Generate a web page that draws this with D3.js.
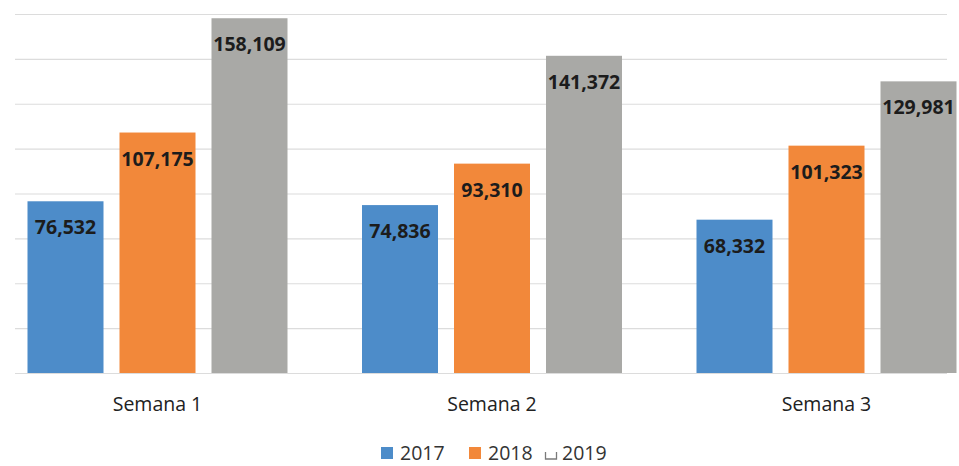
<!DOCTYPE html>
<html>
<head>
<meta charset="utf-8">
<script src="https://cdn.jsdelivr.net/npm/d3@7"></script>
<style>
  html, body { margin: 0; padding: 0; background: #ffffff; }
  svg { display: block; }
  text { font-family: "Open Sans", "Noto Sans", sans-serif; }
</style>
</head>
<body>
<svg id="chart" width="959" height="466"></svg>
<script>
// Weekly totals per year
const categories = ["Semana 1", "Semana 2", "Semana 3"];
const years = ["2017", "2018", "2019"];
const values2017 = [76532, 74836, 68332];
const values2018 = [107175, 93310, 101323];
const values2019 = [158109, 141372, 129981];
const yTicks = [0, 20000, 40000, 60000, 80000, 100000, 120000, 140000, 160000];

const seriesValues = { "2017": values2017, "2018": values2018, "2019": values2019 };
const colors = { "2017": "#4d8cc9", "2018": "#f2883a", "2019": "#a9a9a6" };

const svg = d3.select("#chart");

// Plot frame
const baseY = 373, topY = 14;
const gridLeft = 15, gridRight = 947;
const x0 = d3.scaleBand().domain(categories).range([-9.75, 993.75]).padding(0);
const groupW = 260;
const x1 = d3.scaleBand().domain(years)
  .range([(x0.bandwidth() - groupW) / 2, (x0.bandwidth() + groupW) / 2])
  .paddingInner(16 / 92).paddingOuter(0);
const y = d3.scaleLinear().domain([0, 160000]).range([baseY, topY]);

// Horizontal gridlines
const grid = svg.append("g")
  .attr("transform", `translate(${gridLeft},0)`)
  .call(d3.axisLeft(y).tickValues(yTicks).tickSize(-(gridRight - gridLeft)).tickFormat(""));
grid.select(".domain").remove();
grid.selectAll(".tick line")
  .attr("stroke", "#dcdcdc")
  .attr("stroke-width", 1.2);

// Bars
const fmt = d3.format(",");
const groups = svg.append("g").selectAll("g")
  .data(categories)
  .join("g")
  .attr("transform", d => `translate(${x0(d)},0)`);

const cells = groups.selectAll("g.cell")
  .data((c, i) => years.map(yr => ({ year: yr, value: seriesValues[yr][i] })))
  .join("g").attr("class", "cell");

cells.append("rect")
  .attr("x", d => x1(d.year))
  .attr("width", x1.bandwidth())
  .attr("y", d => y(d.value))
  .attr("height", d => y(0) - y(d.value))
  .attr("fill", d => colors[d.year]);

// Value labels inside the top of each bar
cells.append("text")
  .attr("x", d => x1(d.year) + x1.bandwidth() / 2)
  .attr("y", d => y(d.value) + 33)
  .attr("text-anchor", "middle")
  .attr("font-size", "19.5px")
  .attr("font-weight", "bold")
  .attr("fill", "#1c1c1c")
  .text(d => fmt(d.value));

// Category labels
svg.append("g").selectAll("text")
  .data(categories)
  .join("text")
  .attr("x", d => x0(d) + x0.bandwidth() / 2)
  .attr("y", 411)
  .attr("text-anchor", "middle")
  .attr("font-size", "19.5px")
  .attr("fill", "#222")
  .text(d => d);

// Legend
const legendX = { "2017": 381, "2018": 469, "2019": 545 };
const legend = svg.append("g").selectAll("g")
  .data(years)
  .join("g")
  .attr("transform", d => `translate(${legendX[d]},447)`);

legend.filter(d => d !== "2019").append("rect")
  .attr("width", 12).attr("height", 12)
  .attr("fill", d => colors[d]);

legend.filter(d => d === "2019").append("path")
  .attr("d", "M0.5,5 V12 H11.5 V5")
  .attr("fill", "none")
  .attr("stroke", "#7a7a7a")
  .attr("stroke-width", 1.3);

legend.append("text")
  .attr("x", d => d === "2019" ? 17 : 19)
  .attr("y", 13)
  .attr("font-size", "19.5px")
  .attr("fill", "#333")
  .text(d => d);
</script>
</body>
</html>
